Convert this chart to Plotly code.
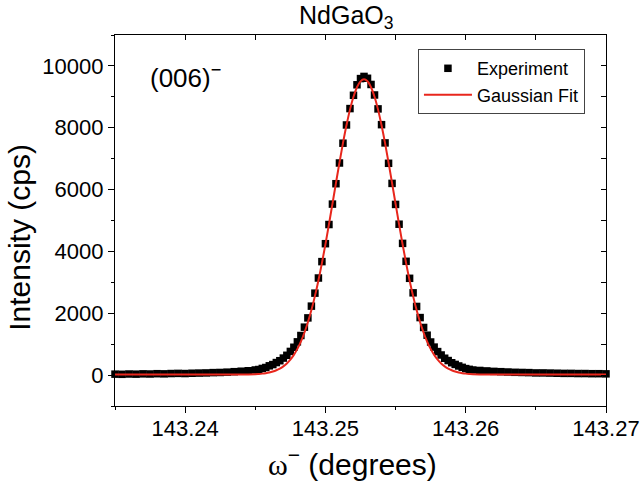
import plotly.graph_objects as go

# omega positions (degrees)
omega = [
    143.2350, 143.2355, 143.2360, 143.2365, 143.2370, 143.2375, 143.2380, 143.2385,
    143.2390, 143.2395, 143.2400, 143.2405, 143.2410, 143.2415, 143.2420, 143.2425,
    143.2430, 143.2435, 143.2440, 143.2445, 143.2450,
    143.24525, 143.2455, 143.24575, 143.2460, 143.24625, 143.2465, 143.24675, 143.2470,
    143.24725, 143.2475, 143.24775, 143.2480, 143.24825, 143.2485, 143.24875, 143.2490,
    143.24925, 143.2495, 143.24975, 143.2500, 143.25025, 143.2505, 143.25075, 143.2510,
    143.25125, 143.2515, 143.25175, 143.2520, 143.25225, 143.2525, 143.25275, 143.2530,
    143.25325, 143.2535, 143.25375, 143.2540, 143.25425, 143.2545, 143.25475, 143.2550,
    143.25525, 143.2555, 143.25575, 143.2560, 143.25625, 143.2565, 143.25675, 143.2570,
    143.25725, 143.2575, 143.25775, 143.2580, 143.25825, 143.2585, 143.25875, 143.2590,
    143.25925, 143.2595, 143.25975, 143.2600, 143.26025,
    143.2605, 143.2610, 143.2615, 143.2620, 143.2625, 143.2630, 143.2635, 143.2640,
    143.2645, 143.2650, 143.2655, 143.2660, 143.2665, 143.2670, 143.2675, 143.2680,
    143.2685, 143.2690, 143.2695, 143.2700,
]

# measured intensity (cps)
experiment = [
    30, 25, 35, 30, 40, 35, 45, 40, 50, 55, 50, 60, 65, 70, 80, 85, 95, 110, 125, 140, 165,
    180, 215, 245, 300, 340, 405, 465, 550, 640, 765, 900, 1075, 1280, 1550, 1850, 2230,
    2650, 3140, 3670, 4250, 4870, 5530, 6190, 6860, 7500, 8090, 8620, 9050, 9390, 9590,
    9660, 9600, 9400, 9060, 8610, 8100, 7510, 6850, 6200, 5520, 4880, 4260, 3680, 3130,
    2660, 2220, 1860, 1540, 1290, 1070, 905, 760, 650, 545, 470, 400, 345, 295, 250, 210, 185,
    165, 150, 135, 120, 110, 100, 90, 85, 80, 70, 70, 65, 60, 55, 55, 50, 50, 45, 45, 40,
]

# Gaussian fit (cps)
gaussian_fit = [
    15, 15, 15, 15, 15, 15, 15, 15, 15, 15, 15, 15, 15, 15, 15, 15, 15, 15, 17, 21, 29,
    37, 47, 63, 84, 114, 155, 209, 282, 377, 499, 654, 847, 1084, 1369, 1707, 2102,
    2554, 3062, 3623, 4230, 4873, 5539, 6211, 6872, 7502, 8080, 8586, 9001, 9310, 9501,
    9565, 9501, 9310, 9001, 8586, 8080, 7502, 6872, 6211, 5539, 4873, 4230, 3623, 3062,
    2554, 2102, 1707, 1369, 1084, 847, 654, 499, 377, 282, 209, 155, 114, 84, 63, 47, 37,
    29, 21, 17, 15, 15, 15, 15, 15, 15, 15, 15, 15, 15, 15, 15, 15, 15, 15, 15, 15,
]

x_range = [143.235, 143.27]
y_range = [-1000, 11000]

FONT = "Liberation Sans, Arial, sans-serif"

fig = go.Figure()
fig.add_trace(go.Scatter(
    x=omega, y=experiment, mode="markers", name="Experiment",
    marker=dict(symbol="square", size=7.5, color="black", line=dict(width=0)),
    cliponaxis=False,
))
fig.add_trace(go.Scatter(
    x=omega, y=gaussian_fit, mode="lines", name="Gaussian Fit",
    line=dict(color="#e8261c", width=2, shape="spline"),
))
# empty trace to activate the mirrored (top/right) axes
fig.add_trace(go.Scatter(x=[], y=[], xaxis="x2", yaxis="y2",
                         showlegend=False, hoverinfo="skip"))

axis_common = dict(showgrid=False, zeroline=False, showline=True,
                   linecolor="black", linewidth=1.3, tickcolor="black",
                   tickwidth=1.3, automargin=False)

fig.update_layout(
    width=640, height=493,
    margin=dict(l=115, r=34, t=35, b=87, autoexpand=False),
    paper_bgcolor="white", plot_bgcolor="white",
    font=dict(family=FONT, color="black"),
    legend=dict(x=0.617, y=0.962, xanchor="left", yanchor="top",
                bordercolor="#444", borderwidth=1, bgcolor="white",
                font=dict(size=18, family=FONT), itemwidth=48),
    xaxis=dict(range=x_range, tick0=143.24, dtick=0.01, tickformat=".2f",
               ticks="outside", ticklen=6, tickfont=dict(size=22),
               mirror=True, ticklabelstandoff=-4,
               minor=dict(dtick=0.005, ticks="outside", ticklen=3,
                          tickwidth=1.3, tickcolor="black"),
               **axis_common),
    yaxis=dict(range=y_range, tick0=0, dtick=2000, tickformat="d",
               ticks="outside", ticklen=6, tickfont=dict(size=22),
               mirror=True,
               minor=dict(dtick=1000, ticks="outside", ticklen=3,
                          tickwidth=1.3, tickcolor="black"),
               **axis_common),
    xaxis2=dict(range=x_range, overlaying="x", side="top", anchor="y",
                tick0=143.24, dtick=0.01, ticks="inside", ticklen=5,
                showticklabels=False,
                minor=dict(dtick=0.005, ticks="inside", ticklen=5,
                           tickwidth=1.3, tickcolor="black"),
                **axis_common),
    yaxis2=dict(range=y_range, overlaying="y", side="right", anchor="x",
                tick0=0, dtick=2000, ticks="inside", ticklen=5,
                showticklabels=False,
                minor=dict(dtick=1000, ticks="inside", ticklen=5,
                           tickwidth=1.3, tickcolor="black"),
                **axis_common),
    annotations=[
        dict(text="NdGaO<sub>3</sub>", x=0.4705, y=1.0, xref="paper", yref="paper",
             xanchor="center", yanchor="bottom", yshift=0, showarrow=False,
             font=dict(size=25, family=FONT)),
        dict(text="(006)<sup>−</sup>", x=0.067, y=0.889, xref="paper", yref="paper",
             xanchor="left", yanchor="middle", showarrow=False,
             font=dict(size=26, family=FONT)),
        dict(text="Intensity (cps)", x=-0.196, y=0.4555, xref="paper", yref="paper",
             xanchor="center", yanchor="middle", textangle=-90, showarrow=False,
             font=dict(size=30, family=FONT)),
        dict(text="<span style='font-family:Liberation Serif'>ω</span><sup>−</sup> (degrees)",
             x=0.4827, y=-0.152, xref="paper", yref="paper",
             xanchor="center", yanchor="middle", showarrow=False,
             font=dict(size=30, family=FONT)),
    ],
)

fig.write_html("out.html")
